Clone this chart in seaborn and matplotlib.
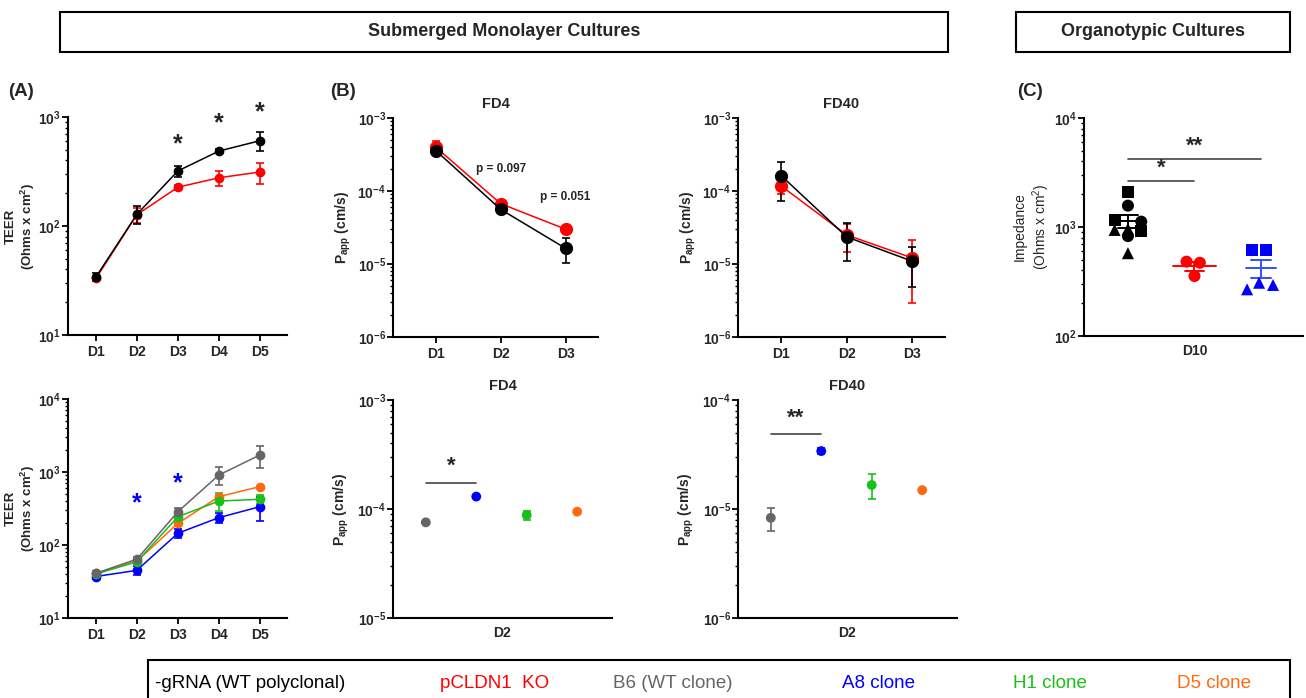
import numpy as np
import pandas as pd
import matplotlib
matplotlib.use("Agg")
import matplotlib.pyplot as plt
import matplotlib.ticker as mticker
from matplotlib.patches import Rectangle
import seaborn as sns

# ---- data ----
teer_days = ["D1", "D2", "D3", "D4", "D5"]
wt_teer = [34, 128, 320, 487, 606]
wt_teer_err = [3, 24, 37, 20, 120]
ko_teer = [33, 127, 227, 277, 313]
ko_teer_err = [2, 20, 12, 42, 68]

b6_teer = [41, 64, 286, 910, 1710]
b6_teer_err = [3, 5, 35, 250, 590]
a8_teer = [37, 45, 145, 237, 335]
a8_teer_err = [3, 6, 20, 35, 120]
h1_teer = [40, 59, 244, 400, 423]
h1_teer_err = [2, 3, 15, 110, 60]
d5_teer = [41, 60, 198, 460, 630]
d5_teer_err = [2, 3, 10, 30, 20]

perm_days = ["D1", "D2", "D3"]
wt_fd4 = [3.58e-4, 5.6e-5, 1.64e-5]
wt_fd4_err = [0.5e-4, 0.4e-5, 0.62e-5]
ko_fd4 = [3.98e-4, 6.7e-5, 3.0e-5]
ko_fd4_err = [0.8e-4, 0.6e-5, 0.2e-5]
wt_fd40 = [1.62e-4, 2.35e-5, 1.09e-5]
wt_fd40_err = [0.9e-4, 1.25e-5, 0.6e-5]
ko_fd40 = [1.17e-4, 2.5e-5, 1.21e-5]
ko_fd40_err = [0.27e-4, 1.05e-5, 0.92e-5]

clones = ["B6", "A8", "H1", "D5"]
clone_fd4 = [7.54e-5, 1.30e-4, 8.8e-5, 9.45e-5]
clone_fd4_err = [0.2e-5, 0.3e-5, 0.8e-5, 0.2e-5]
clone_fd40 = [8.3e-6, 3.4e-5, 1.66e-5, 1.49e-5]
clone_fd40_err = [2.0e-6, 0.2e-5, 0.42e-5, 0.05e-5]

wt_imp = [2080, 1570, 1160, 1120, 940, 960, 925, 825, 575]
wt_imp_shape = ["s", "o", "s", "o", "^", "^", "s", "o", "^"]
ko_imp = [481, 470, 355]
ko_imp_shape = ["o", "o", "o"]
a8_imp = [615, 615, 268, 308, 294]
a8_imp_shape = ["s", "s", "^", "^", "^"]

# ---- style ----
BLACK, RED, GRAY, BLUE, GREEN, ORANGE = "#000000", "#ff0000", "#666666", "#0000ff", "#18c018", "#ff6a10"
sns.set_theme(style="ticks")
plt.rcParams["font.family"] = ["Liberation Sans", "DejaVu Sans"]
plt.rcParams["mathtext.fontset"] = "custom"
plt.rcParams["mathtext.rm"] = "Liberation Sans"
plt.rcParams["mathtext.bf"] = "Liberation Sans:bold"
plt.rcParams["mathtext.it"] = "Liberation Sans:italic"

W, H = 1306, 698
fig = plt.figure(figsize=(W / 100, H / 100), dpi=100)


def px_axes(l, t, r, b):
    return fig.add_axes([l / W, 1 - b / H, (r - l) / W, (b - t) / H])


def style_log(ax, lo, hi):
    ax.set_yscale("log")
    ax.set_ylim(10.0 ** lo, 10.0 ** hi)
    exps = list(range(lo, hi + 1))
    ax.set_yticks([10.0 ** e for e in exps])
    ax.set_yticklabels([r"$\mathbf{10^{%d}}$" % e for e in exps])
    ax.yaxis.set_minor_locator(mticker.LogLocator(base=10, subs=np.arange(2, 10)))
    ax.yaxis.set_minor_formatter(mticker.NullFormatter())
    sns.despine(ax=ax)
    for s in ("left", "bottom"):
        ax.spines[s].set_linewidth(1.5)
        ax.spines[s].set_color("black")
    ax.tick_params(axis="y", which="major", length=4, width=1.3, labelsize=10, pad=1, color="black")
    ax.tick_params(axis="y", which="minor", length=2.5, width=1.0, color="black")
    ax.tick_params(axis="x", length=4, width=1.3, labelsize=10, color="black")
    for lab in ax.get_xticklabels():
        lab.set_fontweight("bold")


def set_ylab(ax, text, xfrac, bold=True, size=10):
    lab = ax.set_ylabel(text, fontsize=size, fontweight="bold" if bold else "normal", linespacing=1.2)
    lab.set_verticalalignment("center")
    ax.yaxis.set_label_coords(xfrac, 0.5)


def lines(ax, vals, errs, color, ms=6):
    x = np.arange(len(vals))
    ax.errorbar(x, vals, yerr=errs, color=color, lw=1.1, marker="o", ms=ms,
                capsize=3, capthick=1.2, elinewidth=1.2)


papp_label = r"$\mathbf{P_{app}}$" + " (cm/s)"
teer_label = "TEER\n(Ohms x cm$^\\mathbf{2}$)"

# ---- (A) top ----
ax = px_axes(68, 117, 287, 335)
lines(ax, ko_teer, ko_teer_err, RED)
lines(ax, wt_teer, wt_teer_err, BLACK)
ax.set_xticks(range(len(teer_days)))
ax.set_xticklabels(teer_days)
ax.set_xlim(-0.68, 4.66)
style_log(ax, 1, 3)
set_ylab(ax, teer_label, -0.215, size=9.5)
for i, yv in zip([2, 3, 4], [560, 870, 1100]):
    ax.text(i, yv, "*", ha="center", va="center", fontsize=18, fontweight="bold", clip_on=False)

# ---- (A) bottom ----
ax = px_axes(68, 399, 287, 618)
lines(ax, a8_teer, a8_teer_err, BLUE)
lines(ax, d5_teer, d5_teer_err, ORANGE)
lines(ax, h1_teer, h1_teer_err, GREEN)
lines(ax, b6_teer, b6_teer_err, GRAY)
ax.set_xticks(range(len(teer_days)))
ax.set_xticklabels(teer_days)
ax.set_xlim(-0.68, 4.66)
style_log(ax, 1, 4)
set_ylab(ax, teer_label, -0.215, size=9.5)
ax.text(1, 370, "*", color=BLUE, ha="center", va="center", fontsize=18, fontweight="bold")
ax.text(2, 700, "*", color=BLUE, ha="center", va="center", fontsize=18, fontweight="bold")

# ---- (B) top FD4 / FD40 ----
for (l, r), wt, wte, ko, koe, title in [((393, 598), wt_fd4, wt_fd4_err, ko_fd4, ko_fd4_err, "FD4"),
                                        ((738, 945), wt_fd40, wt_fd40_err, ko_fd40, ko_fd40_err, "FD40")]:
    ax = px_axes(l, 118, r, 337)
    lines(ax, ko, koe, RED, ms=8.5)
    lines(ax, wt, wte, BLACK, ms=8.5)
    ax.set_xticks(range(len(perm_days)))
    ax.set_xticklabels(perm_days)
    ax.set_xlim(-0.66, 2.5)
    style_log(ax, -6, -3)
    set_ylab(ax, papp_label, -0.24)
    ax.set_title(title, fontsize=10.5, fontweight="bold", pad=7)
    if title == "FD4":
        ax.text(1.0, 2.0e-4, "p = 0.097", ha="center", va="center", fontsize=8.5, fontweight="bold")
        ax.text(2.0, 8.3e-5, "p = 0.051", ha="center", va="center", fontsize=8.5, fontweight="bold")

# ---- (B) bottom clones ----
clone_colors = [GRAY, BLUE, GREEN, ORANGE]
for (l, r), vals, errs, title, lo, hi, bar_y, stars in [
        ((393, 612), clone_fd4, clone_fd4_err, "FD4", -5, -3, 1.75e-4, "*"),
        ((738, 957), clone_fd40, clone_fd40_err, "FD40", -6, -4, 4.84e-5, "**")]:
    ax = px_axes(l, 400, r, 618)
    df = pd.DataFrame({"x": np.arange(len(clones)), "y": vals, "clone": clones})
    for i, c in enumerate(clone_colors):
        ax.errorbar(i, vals[i], yerr=errs[i], color=c, capsize=3, capthick=1.2, elinewidth=1.2, fmt="none")
    sns.scatterplot(data=df, x="x", y="y", hue="clone", palette=clone_colors, s=50,
                    edgecolor="none", legend=False, ax=ax, zorder=3)
    ax.set_xlim(-0.65, 3.69)
    style_log(ax, lo, hi)
    ax.set_xticks([1.5])
    ax.set_xticklabels(["D2"])
    ax.tick_params(axis="x", length=0, pad=6)
    ax.set_xlabel("")
    set_ylab(ax, papp_label, -0.235)
    ax.set_title(title, fontsize=10.5, fontweight="bold", pad=7)
    ax.plot([0, 1], [bar_y, bar_y], color="#444444", lw=1.2)
    ax.text(0.5, bar_y * 1.12, stars, ha="center", va="bottom", fontsize=16, fontweight="bold")

# ---- (C) organotypic impedance ----
ax = px_axes(1084, 118, 1303, 336)
jitter = [[0, 0, -0.2, 0.2, -0.2, 0, 0.2, 0, 0], [-0.12, 0.08, 0], [-0.14, 0.07, -0.21, -0.03, 0.18]]
for gi, (vals, shapes, col, half) in enumerate([(wt_imp, wt_imp_shape, BLACK, 0.23),
                                                 (ko_imp, ko_imp_shape, RED, 0.32),
                                                 (a8_imp, a8_imp_shape, BLUE, 0.23)]):
    df = pd.DataFrame({"x": gi + np.array(jitter[gi]), "y": vals, "shape": shapes})
    sns.scatterplot(data=df, x="x", y="y", style="shape", markers={"s": "s", "o": "o", "^": "^"},
                    color=col, s=75, edgecolor="none", legend=False, ax=ax, zorder=3)
    m = np.mean(vals)
    se = np.std(vals, ddof=1) / np.sqrt(len(vals))
    lc = "#3050ff" if col == BLUE else col
    ax.plot([gi - half, gi + half], [m, m], color=lc, lw=1.4)
    ax.plot([gi - 0.15, gi + 0.15], [m + se, m + se], color=lc, lw=1.4)
    ax.plot([gi - 0.15, gi + 0.15], [m - se, m - se], color=lc, lw=1.4)
    ax.plot([gi, gi], [m - se, m + se], color=lc, lw=1.4)
ax.set_xlim(-0.66, 2.63)
style_log(ax, 2, 4)
ax.set_xticks([1])
ax.set_xticklabels(["D10"])
ax.tick_params(axis="x", length=0, pad=6)
ax.set_xlabel("")
set_ylab(ax, "Impedance\n(Ohms x cm$^2$)", -0.235, bold=False)
ax.plot([0, 1], [2650, 2650], color="#444444", lw=1.2)
ax.text(0.5, 2750, "*", ha="center", va="bottom", fontsize=16, fontweight="bold")
ax.plot([0, 2], [4250, 4250], color="#444444", lw=1.2)
ax.text(1.0, 4450, "**", ha="center", va="bottom", fontsize=16, fontweight="bold")

# ---- panel letters, banners, legend ----
for x, lab in [(8, "(A)"), (330, "(B)"), (1017, "(C)")]:
    fig.text(x / W, 1 - 92 / H, lab, fontsize=13.5, fontweight="bold", va="center")

for (l, r), txt in [((60, 948), "Submerged Monolayer Cultures"), ((1016, 1290), "Organotypic Cultures")]:
    fig.patches.append(Rectangle((l / W, 1 - 52 / H), (r - l) / W, 40 / H, transform=fig.transFigure,
                                 fill=False, edgecolor="black", lw=1.5))
    fig.text((l + r) / 2 / W, 1 - 32 / H, txt, ha="center", va="center", fontsize=13, fontweight="bold")

fig.patches.append(Rectangle((148 / W, -0.02), (1290 - 148) / W, 1 - 660 / H + 0.02,
                             transform=fig.transFigure, fill=False, edgecolor="black", lw=1.5))
legend_items = [("-gRNA (WT polyclonal)", BLACK, 155, "left"), ("pCLDN1  KO", RED, 495, "center"),
                ("B6 (WT clone)", GRAY, 673, "center"), ("A8 clone", BLUE, 878, "center"),
                ("H1 clone", GREEN, 1050, "center"), ("D5 clone", ORANGE, 1214, "center")]
for txt, col, x, ha in legend_items:
    fig.text(x / W, 1 - 683 / H, txt, color=col, ha=ha, va="center", fontsize=13.5)

fig.savefig("out.png", dpi=100)
